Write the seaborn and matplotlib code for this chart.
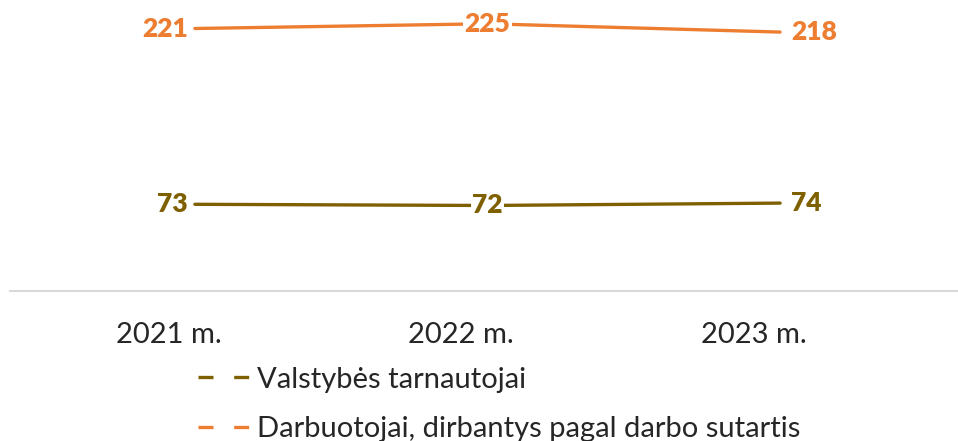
import matplotlib
matplotlib.use("Agg")
import matplotlib.pyplot as plt
from matplotlib.lines import Line2D
import seaborn as sns
import pandas as pd

years = ["2021 m.", "2022 m.", "2023 m."]
civil_servants = [73, 72, 74]
contract_staff = [221, 225, 218]
series_names = ["Valstybės tarnautojai", "Darbuotojai, dirbantys pagal darbo sutartis"]
colors = ["#7F6000", "#ED7D31"]

sns.set_style("white")
plt.rcParams['font.family'] = ['Lato', 'DejaVu Sans']

df = pd.DataFrame({
    'year': years * 2,
    'x': list(range(len(years))) * 2,
    'value': civil_servants + contract_staff,
    'series': [series_names[0]] * 3 + [series_names[1]] * 3,
})

fig = plt.figure(figsize=(9.58, 4.41), dpi=100)
ax = fig.add_axes([10 / 958, 1 - 291 / 441, 948 / 958, 291 / 441])

sns.lineplot(data=df, x='x', y='value', hue='series', palette=colors,
             linewidth=2.4, ax=ax, legend=False)

# data labels: first left, middle centered, last right
lbl = dict(fontsize=19, fontweight='heavy')
for vals, col in zip([civil_servants, contract_staff], colors):
    for i, v in enumerate(vals):
        if i == 0:
            ax.annotate(str(v), (i, v), xytext=(-5, 0), textcoords='offset points',
                        ha='right', va='center', color=col, **lbl)
        elif i == len(vals) - 1:
            ax.annotate(str(v), (i, v), xytext=(8, 0), textcoords='offset points',
                        ha='left', va='center', color=col, **lbl)
        else:
            ax.annotate(str(v), (i, v), ha='center', va='center', color=col,
                        bbox=dict(boxstyle='square,pad=0.05', fc='white', ec='none'), **lbl)

ax.set_xlim(-0.632, 2.608)
ax.set_ylim(0, 245)
# category labels sit a little left of the data points in the original
ax.set_xticks([i - 0.09 for i in range(len(years))])
ax.set_xticklabels(years, fontsize=21)
ax.tick_params(axis='x', length=0, pad=22)
ax.set_yticks([])
ax.set_xlabel('')
ax.set_ylabel('')
for s in ['top', 'left', 'right']:
    ax.spines[s].set_visible(False)
ax.spines['bottom'].set_color('#D9D9D9')
ax.spines['bottom'].set_linewidth(1.5)

handles = [Line2D([0], [0], color=c, linewidth=2.4, linestyle=(0, (4.5, 6.2))) for c in colors]
fig.legend(handles, series_names, loc='upper left', bbox_to_anchor=(186 / 958, 1 - 355 / 441),
           frameon=False, fontsize=21, handlelength=1.8, handletextpad=0.25,
           labelspacing=0.8, borderaxespad=0)

fig.savefig('out.png', dpi=100)
